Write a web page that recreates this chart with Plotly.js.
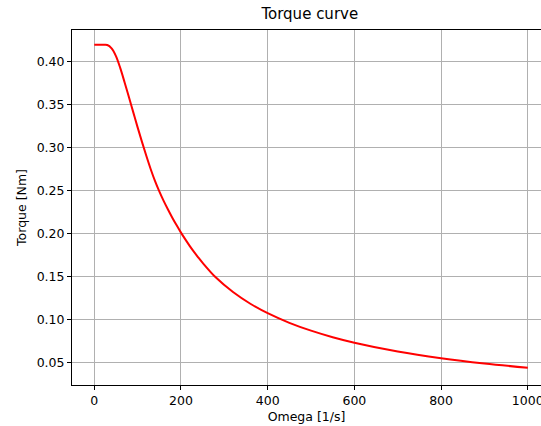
<!DOCTYPE html>
<html>
<head>
<meta charset="utf-8">
<script src="https://cdn.plot.ly/plotly-3.0.1.min.js"></script>
<style>
html, body { margin: 0; padding: 0; background: #fff; }
#chart { width: 541px; height: 426px; }
</style>
</head>
<body>
<div id="chart"></div>
<script>
// Data
const omega = [0, 10, 20, 30, 40, 50, 60, 70, 80, 90, 100, 110, 120, 130, 140, 150, 160, 170, 180, 190, 200, 210, 220, 230, 240, 250, 280, 320, 360, 400, 450, 500, 550, 600, 700, 800, 900, 1000];
const torque = [0.420, 0.420, 0.420, 0.4198, 0.4158, 0.4068, 0.3928, 0.3762, 0.3589, 0.3414, 0.3240, 0.3071, 0.2909, 0.2756, 0.2617, 0.2495, 0.2385, 0.2285, 0.2190, 0.2101, 0.2016, 0.1937, 0.1862, 0.1792, 0.1726, 0.1664, 0.1496, 0.1325, 0.1189, 0.1079, 0.0967, 0.0876, 0.0800, 0.0736, 0.0633, 0.0555, 0.0494, 0.0445];

const titleText = "Torque curve";
const xLabel = "Omega [1/s]";
const yLabel = "Torque [Nm]";

const font = "DejaVu Sans, sans-serif";

const trace = {
  x: omega,
  y: torque,
  type: "scatter",
  mode: "lines",
  line: { color: "#ff0000", width: 2, shape: "spline", smoothing: 1 },
  hoverinfo: "skip"
};

const layout = {
  width: 541,
  height: 426,
  paper_bgcolor: "#ffffff",
  plot_bgcolor: "#ffffff",
  margin: { l: 72, r: 0, t: 30, b: 41, pad: 0 },
  showlegend: false,
  font: { family: font, size: 12.5, color: "#000000" },
  title: {
    text: titleText,
    font: { family: font, size: 15, color: "#000000" },
    x: 0.507, xref: "paper", xanchor: "center",
    y: 0.967, yref: "container", yanchor: "middle"
  },
  xaxis: {
    range: [-51.4, 1030.5],
    tickmode: "linear", tick0: 0, dtick: 200,
    ticklabeloverflow: "allow",
    showgrid: true, gridcolor: "#b0b0b0", gridwidth: 1,
    zeroline: false,
    showline: true, linecolor: "#000000", linewidth: 1, mirror: true,
    ticks: "outside", ticklen: 4, tickwidth: 1, tickcolor: "#000000",
    tickfont: { family: font, size: 12.5, color: "#000000" },
    title: { text: xLabel, font: { family: font, size: 12.5, color: "#000000" }, standoff: 5 },
    automargin: false
  },
  yaxis: {
    range: [0.0244, 0.4372],
    tickmode: "linear", tick0: 0, dtick: 0.05, tickformat: ".2f",
    showgrid: true, gridcolor: "#b0b0b0", gridwidth: 1,
    zeroline: false,
    showline: true, linecolor: "#000000", linewidth: 1, mirror: false,
    ticks: "outside", ticklen: 4, tickwidth: 1, tickcolor: "#000000",
    tickfont: { family: font, size: 12.5, color: "#000000" },
    title: { text: yLabel, font: { family: font, size: 12.5, color: "#000000" }, standoff: 7 },
    automargin: false
  }
};

Plotly.newPlot("chart", [trace], layout, { displayModeBar: false, staticPlot: true });
</script>
</body>
</html>
